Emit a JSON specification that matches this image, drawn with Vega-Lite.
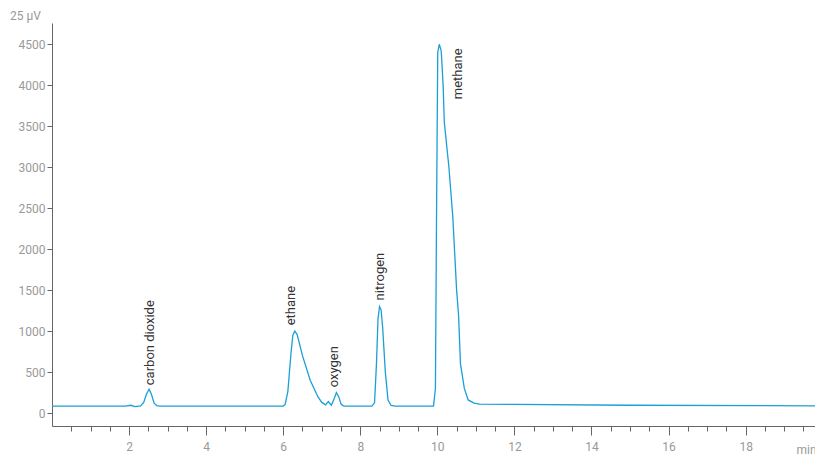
{
  "$schema": "https://vega.github.io/schema/vega-lite/v6.json",
  "width": 763,
  "height": 403,
  "autosize": "none",
  "padding": {"left": 52, "top": 23, "right": 0, "bottom": 29},
  "config": {
    "view": {"stroke": null},
    "axis": {"labelFont": "Roboto", "labelColor": "#999", "labelFontSize": 12, "domainColor": "#666", "tickColor": "#666", "grid": false, "titleFont": "Roboto", "titleColor": "#999", "titleFontWeight": "normal", "titleFontSize": 12}
  },
  "datasets": {
    "trace": [
      {"t": 0, "v": 85}, {"t": 1.9, "v": 85}, {"t": 2.05, "v": 95}, {"t": 2.15, "v": 78}, {"t": 2.3, "v": 86},
      {"t": 2.38, "v": 130}, {"t": 2.45, "v": 230}, {"t": 2.52, "v": 290}, {"t": 2.58, "v": 230}, {"t": 2.65, "v": 120}, {"t": 2.72, "v": 90}, {"t": 2.8, "v": 85},
      {"t": 6.0, "v": 85}, {"t": 6.05, "v": 105}, {"t": 6.12, "v": 260}, {"t": 6.2, "v": 720}, {"t": 6.25, "v": 950}, {"t": 6.3, "v": 1000},
      {"t": 6.36, "v": 960}, {"t": 6.5, "v": 700}, {"t": 6.7, "v": 400}, {"t": 6.9, "v": 200}, {"t": 7.0, "v": 130},
      {"t": 7.1, "v": 100}, {"t": 7.17, "v": 140}, {"t": 7.25, "v": 95}, {"t": 7.32, "v": 170}, {"t": 7.38, "v": 250},
      {"t": 7.44, "v": 200}, {"t": 7.5, "v": 110}, {"t": 7.56, "v": 88}, {"t": 7.6, "v": 85},
      {"t": 8.3, "v": 85}, {"t": 8.37, "v": 125}, {"t": 8.42, "v": 600}, {"t": 8.46, "v": 1150}, {"t": 8.5, "v": 1300}, {"t": 8.54, "v": 1260},
      {"t": 8.58, "v": 1050}, {"t": 8.65, "v": 500}, {"t": 8.72, "v": 160}, {"t": 8.8, "v": 92}, {"t": 8.9, "v": 85},
      {"t": 9.9, "v": 85}, {"t": 9.95, "v": 300}, {"t": 9.98, "v": 2500}, {"t": 10.01, "v": 4400}, {"t": 10.05, "v": 4500},
      {"t": 10.1, "v": 4420}, {"t": 10.15, "v": 4000}, {"t": 10.18, "v": 3550}, {"t": 10.3, "v": 3000}, {"t": 10.4, "v": 2400},
      {"t": 10.5, "v": 1500}, {"t": 10.55, "v": 1200}, {"t": 10.6, "v": 600}, {"t": 10.7, "v": 300}, {"t": 10.8, "v": 160},
      {"t": 10.95, "v": 122}, {"t": 11.1, "v": 110}, {"t": 12, "v": 105}, {"t": 15, "v": 95}, {"t": 19.8, "v": 88}
    ],
    "labels": [
      {"t": 2.54, "v": 340, "name": "carbon dioxide"},
      {"t": 6.19, "v": 1070, "name": "ethane"},
      {"t": 7.33, "v": 315, "name": "oxygen"},
      {"t": 8.5, "v": 1375, "name": "nitrogen"},
      {"t": 10.54, "v": 3830, "name": "methane"}
    ]
  },
  "resolve": {"axis": {"x": "independent"}},
  "layer": [
    {
      "data": {"name": "trace"},
      "mark": {"type": "line", "color": "#1a9fd6", "strokeWidth": 1.3, "clip": true},
      "encoding": {
        "x": {
          "field": "t", "type": "quantitative",
          "scale": {"domain": [0, 19.8], "nice": false, "zero": false},
          "axis": {
            "orient": "bottom",
            "values": [2, 4, 6, 8, 10, 12, 14, 16, 18],
            "tickSize": 9,
            "labelPadding": 6,
            "offset": 0,
            "title": "min", "titleAlign": "left", "titleX": 744, "titleY": 23, "titleBaseline": "middle"
          }
        },
        "y": {
          "field": "v", "type": "quantitative",
          "scale": {"domain": [-158, 4760], "nice": false, "zero": false},
          "axis": {
            "values": [0,500,1000,1500,2000,2500,3000,3500,4000,4500],
            "format": "d",
            "tickSize": 5,
            "title": "25 µV", "titleAngle": 0, "titleX": -27, "titleY": -1, "titleAlign": "center", "titleBaseline": "bottom"
          }
        }
      }
    },
    {
      "data": {"name": "labels"},
      "mark": {"type": "text", "angle": 270, "align": "left", "baseline": "middle", "font": "Roboto", "fontSize": 13, "color": "#333"},
      "encoding": {
        "x": {
          "field": "t", "type": "quantitative",
          "axis": {
            "orient": "bottom",
            "values": [0.5,1,1.5,2.5,3,3.5,4.5,5,5.5,6.5,7,7.5,8.5,9,9.5,10.5,11,11.5,12.5,13,13.5,14.5,15,15.5,16.5,17,17.5,18.5,19,19.5],
            "tickSize": 5, "labels": false, "domain": false, "offset": 0, "title": null
          }
        },
        "y": {"field": "v", "type": "quantitative"},
        "text": {"field": "name"}
      }
    }
  ]
}
